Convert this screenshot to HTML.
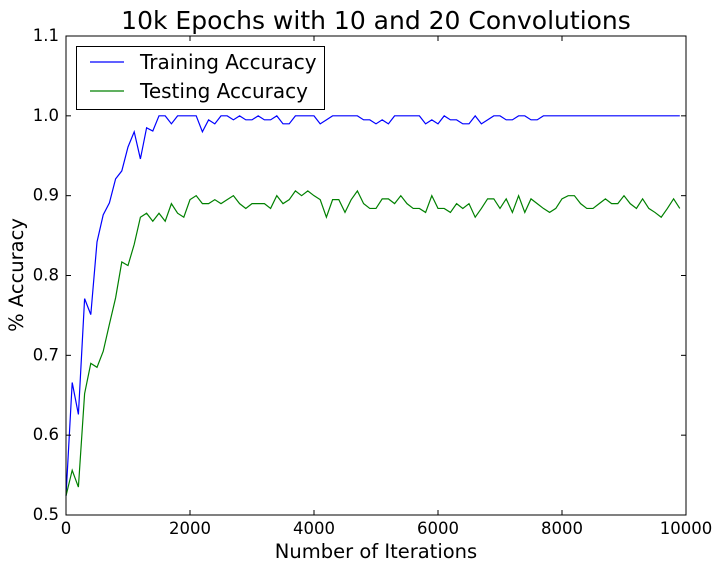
<!DOCTYPE html>
<html><head><meta charset="utf-8"><style>
body{margin:0;background:#fff;}
svg text{font-family:"DejaVu Sans","Liberation Sans",sans-serif;fill:#000;}
</style></head><body>
<svg id="c" width="720" height="572" xmlns="http://www.w3.org/2000/svg"></svg>
<script>
const xTicks=[0,2000,4000,6000,8000,10000];
const yTicks=[0.5,0.6,0.7,0.8,0.9,1.0,1.1];
const yTickLabels=["0.5","0.6","0.7","0.8","0.9","1.0","1.1"];
const iterStep=100;
const training=[0.524,0.666,0.626,0.771,0.751,0.842,0.876,0.891,0.921,0.931,0.961,0.98,0.946,0.985,0.981,1,1,0.99,1,1,1,1,0.98,0.995,0.99,1,1,0.995,1,0.995,0.995,1,0.995,0.995,1,0.99,0.99,1,1,1,1,0.99,0.995,1,1,1,1,1,0.995,0.995,0.99,0.995,0.99,1,1,1,1,1,0.99,0.995,0.99,1,0.995,0.995,0.99,0.99,1,0.99,0.995,1,1,0.995,0.995,1,1,0.995,0.995,1,1,1,1,1,1,1,1,1,1,1,1,1,1,1,1,1,1,1,1,1,1,1];
const testing=[0.524,0.556,0.535,0.652,0.69,0.685,0.705,0.739,0.772,0.817,0.8125,0.839,0.873,0.878,0.868,0.878,0.868,0.89,0.878,0.873,0.895,0.9,0.89,0.89,0.895,0.89,0.895,0.9,0.89,0.884,0.89,0.89,0.89,0.884,0.9,0.89,0.895,0.906,0.9,0.906,0.9,0.895,0.873,0.895,0.895,0.879,0.895,0.906,0.89,0.884,0.884,0.896,0.896,0.89,0.9,0.89,0.884,0.884,0.879,0.9,0.884,0.884,0.879,0.89,0.884,0.89,0.873,0.884,0.896,0.896,0.884,0.896,0.879,0.9,0.879,0.896,0.89,0.884,0.879,0.884,0.896,0.9,0.9,0.89,0.884,0.884,0.89,0.896,0.89,0.89,0.9,0.89,0.884,0.896,0.884,0.879,0.873,0.884,0.896,0.884];
const L=66,R=686,T=36,B=515;
const sx=v=>L+(v-0)/(10000-0)*(R-L);
const sy=v=>B-(v-0.5)/(1.1-0.5)*(B-T);
const svg=document.getElementById('c');
const NS="http://www.w3.org/2000/svg";
function mk(tag,attrs,parent){const e=document.createElementNS(NS,tag);for(const k in attrs)e.setAttribute(k,attrs[k]);(parent||svg).appendChild(e);return e;}
function series(arr,color,name){
  const pts=arr.map((v,i)=>sx(i*iterStep).toFixed(2)+","+sy(v).toFixed(2)).join(" ");
  const p=mk('polyline',{points:pts,fill:'none',stroke:color,'stroke-width':1.2});
  
  
}
series(training,'#0000ff','training-accuracy-line');
series(testing,'#008000','testing-accuracy-line');
const frame=mk('rect',{x:L,y:T,width:R-L,height:B-T,fill:'none',stroke:'#000','stroke-width':1});


xTicks.forEach(v=>{
  const x=sx(v);
  mk('line',{x1:x,x2:x,y1:B,y2:B-5,stroke:'#000'});
  mk('line',{x1:x,x2:x,y1:T,y2:T+5,stroke:'#000'});
  const t=mk('text',{x:x,y:B+19,'text-anchor':'middle','font-size':16.5});
  t.textContent=String(v);
  
  
});
yTicks.forEach((v,i)=>{
  const y=sy(v);
  mk('line',{x1:L,x2:L+5,y1:y,y2:y,stroke:'#000'});
  mk('line',{x1:R,x2:R-5,y1:y,y2:y,stroke:'#000'});
  const t=mk('text',{x:L-7,y:y+5,'text-anchor':'end','font-size':16.5});
  t.textContent=yTickLabels[i];
  
  
});
</script>
<svg width="720" height="572" style="position:absolute;left:0;top:0" xmlns="http://www.w3.org/2000/svg">
<text x="376" y="29" text-anchor="middle" font-size="25">10k Epochs with 10 and 20 Convolutions</text>
<text x="376" y="558" text-anchor="middle" font-size="19.5">Number of Iterations</text>
<text x="23" y="275" text-anchor="middle" font-size="19.5" transform="rotate(-90 23 275)">% Accuracy</text>
<g>
<rect x="76.5" y="46.5" width="248" height="63" fill="#fff" stroke="#000"/>
<line x1="90" x2="124" y1="62" y2="62" stroke="#0000ff" stroke-width="1.2"/>
<text x="140" y="69" font-size="20">Training Accuracy</text>
<line x1="90" x2="124" y1="91" y2="91" stroke="#008000" stroke-width="1.2"/>
<text x="140" y="98" font-size="20">Testing Accuracy</text>
</g>
</svg>
</body></html>
